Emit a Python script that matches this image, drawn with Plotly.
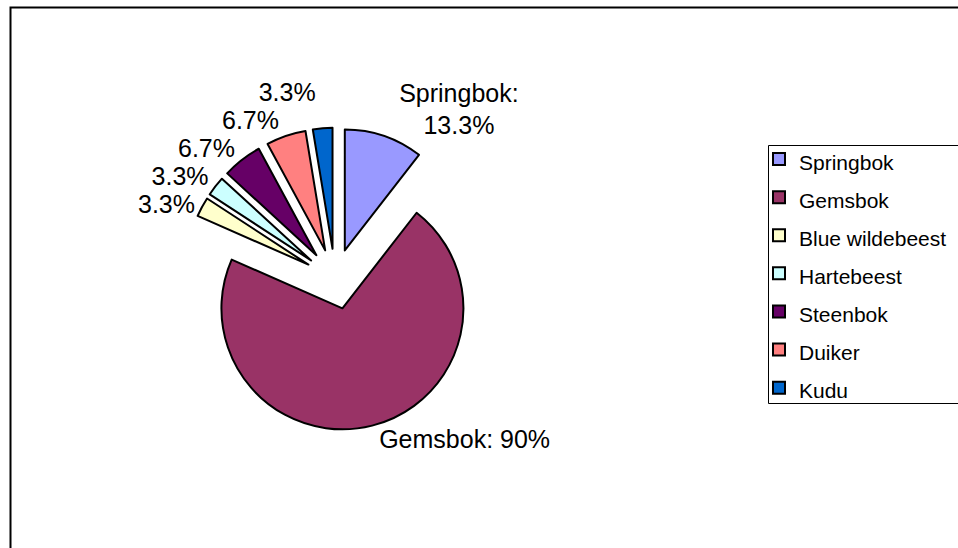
import plotly.graph_objects as go

names = ["Springbok", "Gemsbok", "Blue wildebeest", "Hartebeest", "Steenbok", "Duiker", "Kudu"]
percent = [13.3, 90, 3.3, 3.3, 6.7, 6.7, 3.3]
name_sep = [":<br>", ": ", None, None, None, None, None]
colors = ["#9999FF", "#993366", "#FFFFCC", "#CCFFFF", "#660066", "#FF8080", "#0066CC"]

W, H = 958, 548
FONT = "Liberation Sans, Arial, sans-serif"

texts = []
for n, v, sep in zip(names, percent, name_sep):
    pct = f"{v:g}%"
    texts.append(f"{n}{sep}{pct}" if sep else pct)

legend_labels = [f"<span style='font-size:21px'>{n}</span>" for n in names]

# pie geometry (pixels) -> paper domain
cx, cy, r, pull = 335, 279, 121, 0.25
half = r * (1 + pull)
dom_x = [(cx - half) / W, (cx + half) / W]
dom_y = [1 - (cy + half) / H, 1 - (cy - half) / H]

fig = go.Figure(go.Pie(
    labels=legend_labels,
    values=percent,
    text=texts,
    textinfo="text",
    textposition="outside",
    textfont=dict(family=FONT, size=25, color="black"),
    sort=False,
    direction="clockwise",
    rotation=0,
    pull=pull,
    marker=dict(colors=colors, line=dict(color="black", width=2)),
    domain=dict(x=dom_x, y=dom_y),
    hoverinfo="skip",
))

fig.update_layout(
    width=W, height=H,
    margin=dict(l=0, r=0, t=0, b=0),
    paper_bgcolor="white",
    plot_bgcolor="white",
    font=dict(family=FONT, color="black"),
    showlegend=True,
    legend=dict(
        x=759 / W, xanchor="left",
        y=1 - 135 / H, yanchor="top",
        font=dict(size=27, color="black"),
        borderwidth=0,
        bgcolor="rgba(0,0,0,0)",
        itemclick=False, itemdoubleclick=False,
    ),
    shapes=[
        dict(type="rect", xref="paper", yref="paper",
             x0=10.5 / W, x1=1.05, y0=-0.05, y1=1 - 7.5 / H,
             line=dict(color="black", width=2), fillcolor="rgba(0,0,0,0)",
             layer="below"),
        dict(type="rect", xref="paper", yref="paper",
             x0=768.5 / W, x1=1.05, y0=1 - 403.5 / H, y1=1 - 145.5 / H,
             line=dict(color="black", width=1), fillcolor="rgba(0,0,0,0)",
             layer="below"),
    ],
)

post = """
document.body.style.margin = '0';
document.querySelectorAll('path.textline').forEach(function(e){ e.remove(); });
"""

fig.write_html("out.html", post_script=post, config={"displayModeBar": False})
